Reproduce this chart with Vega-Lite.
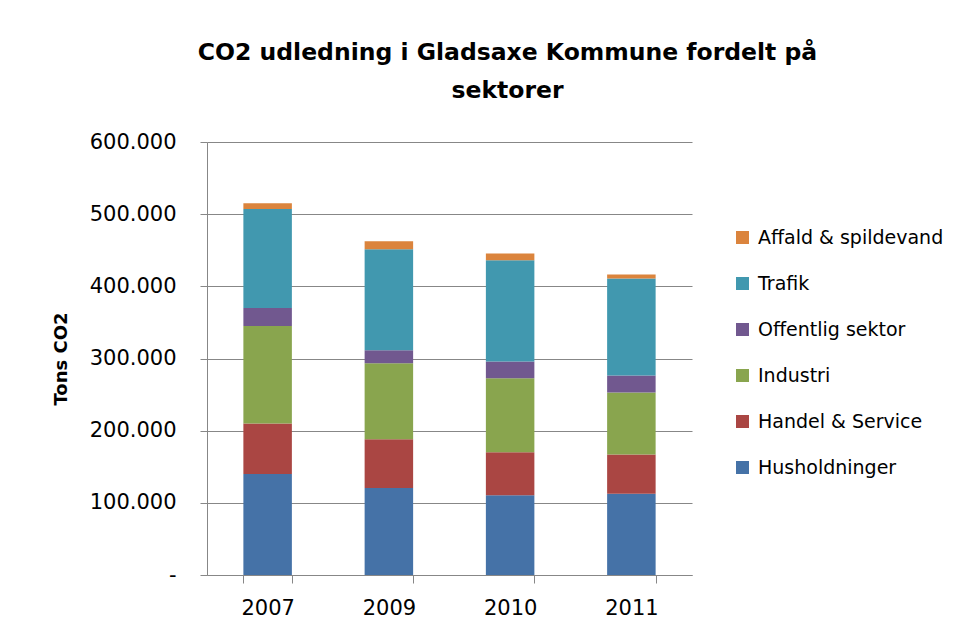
{
  "$schema": "https://vega.github.io/schema/vega-lite/v6.json",
  "width": 485,
  "height": 433,
  "autosize": {"type": "none"},
  "padding": {"left": 207, "top": 142, "right": 267, "bottom": 60},
  "background": "white",
  "title": {
    "text": ["CO2 udledning i Gladsaxe Kommune fordelt på", "sektorer"],
    "font": "DejaVu Sans",
    "fontSize": 23.5,
    "fontWeight": "bold",
    "color": "#000000",
    "lineHeight": 38,
    "anchor": "middle",
    "dx": 58,
    "offset": 29
  },
  "config": {
    "view": {"stroke": null},
    "font": "DejaVu Sans"
  },
  "data": {
    "values": [
      {"aar": "2007", "sektor": "Husholdninger", "tons": 140000},
      {"aar": "2007", "sektor": "Handel & Service", "tons": 70000},
      {"aar": "2007", "sektor": "Industri", "tons": 135000},
      {"aar": "2007", "sektor": "Offentlig sektor", "tons": 25000},
      {"aar": "2007", "sektor": "Trafik", "tons": 137000},
      {"aar": "2007", "sektor": "Affald & spildevand", "tons": 8000},
      {"aar": "2009", "sektor": "Husholdninger", "tons": 120500},
      {"aar": "2009", "sektor": "Handel & Service", "tons": 67500},
      {"aar": "2009", "sektor": "Industri", "tons": 105500},
      {"aar": "2009", "sektor": "Offentlig sektor", "tons": 18000},
      {"aar": "2009", "sektor": "Trafik", "tons": 140000},
      {"aar": "2009", "sektor": "Affald & spildevand", "tons": 11000},
      {"aar": "2010", "sektor": "Husholdninger", "tons": 110500},
      {"aar": "2010", "sektor": "Handel & Service", "tons": 59500},
      {"aar": "2010", "sektor": "Industri", "tons": 102500},
      {"aar": "2010", "sektor": "Offentlig sektor", "tons": 23500},
      {"aar": "2010", "sektor": "Trafik", "tons": 140000},
      {"aar": "2010", "sektor": "Affald & spildevand", "tons": 9500},
      {"aar": "2011", "sektor": "Husholdninger", "tons": 112500},
      {"aar": "2011", "sektor": "Handel & Service", "tons": 54500},
      {"aar": "2011", "sektor": "Industri", "tons": 86000},
      {"aar": "2011", "sektor": "Offentlig sektor", "tons": 23500},
      {"aar": "2011", "sektor": "Trafik", "tons": 134500},
      {"aar": "2011", "sektor": "Affald & spildevand", "tons": 5500}
    ]
  },
  "transform": [
    {"calculate": "indexof(['Husholdninger','Handel & Service','Industri','Offentlig sektor','Trafik','Affald & spildevand'], datum.sektor)", "as": "ord"}
  ],
  "mark": {"type": "bar"},
  "encoding": {
    "x": {
      "field": "aar",
      "type": "nominal",
      "scale": {"paddingInner": 0.6, "paddingOuter": 0.3},
      "axis": {
        "title": null,
        "labelAngle": 0,
        "labelFont": "DejaVu Sans",
        "labelFontSize": 21,
        "labelColor": "#000000",
        "labelPadding": 14,
        "tickBand": "extent",
        "tickSize": 8,
        "tickColor": "#878787",
        "domainColor": "#878787",
        "grid": false
      }
    },
    "y": {
      "field": "tons",
      "type": "quantitative",
      "stack": "zero",
      "scale": {"domain": [0, 600000], "nice": false},
      "axis": {
        "title": "Tons CO2",
        "titleFont": "DejaVu Sans",
        "titleFontSize": 18,
        "titleFontWeight": "bold",
        "titleColor": "#000000",
        "titlePadding": 19,
        "values": [0, 100000, 200000, 300000, 400000, 500000, 600000],
        "labelExpr": "datum.value == 0 ? '-' : replace(format(datum.value, ','), ',', '.')",
        "labelFont": "DejaVu Sans",
        "labelFontSize": 21,
        "labelColor": "#000000",
        "labelPadding": 24,
        "tickSize": 7,
        "tickColor": "#878787",
        "domainColor": "#878787",
        "gridColor": "#878787",
        "gridOpacity": 1
      }
    },
    "color": {
      "field": "sektor",
      "type": "nominal",
      "scale": {
        "domain": ["Affald & spildevand", "Trafik", "Offentlig sektor", "Industri", "Handel & Service", "Husholdninger"],
        "range": ["#DB843D", "#4198AF", "#71588F", "#89A54E", "#AA4643", "#4572A7"]
      },
      "legend": {
        "title": null,
        "orient": "none",
        "legendX": 526,
        "legendY": 86,
        "symbolType": "square",
        "symbolSize": 169,
        "symbolStrokeWidth": 0,
        "labelFont": "DejaVu Sans",
        "labelFontSize": 19,
        "labelColor": "#000000",
        "labelOffset": 6,
        "rowPadding": 26,
        "labelLimit": 300
      }
    },
    "order": {"field": "ord", "type": "quantitative", "sort": "ascending"}
  }
}
